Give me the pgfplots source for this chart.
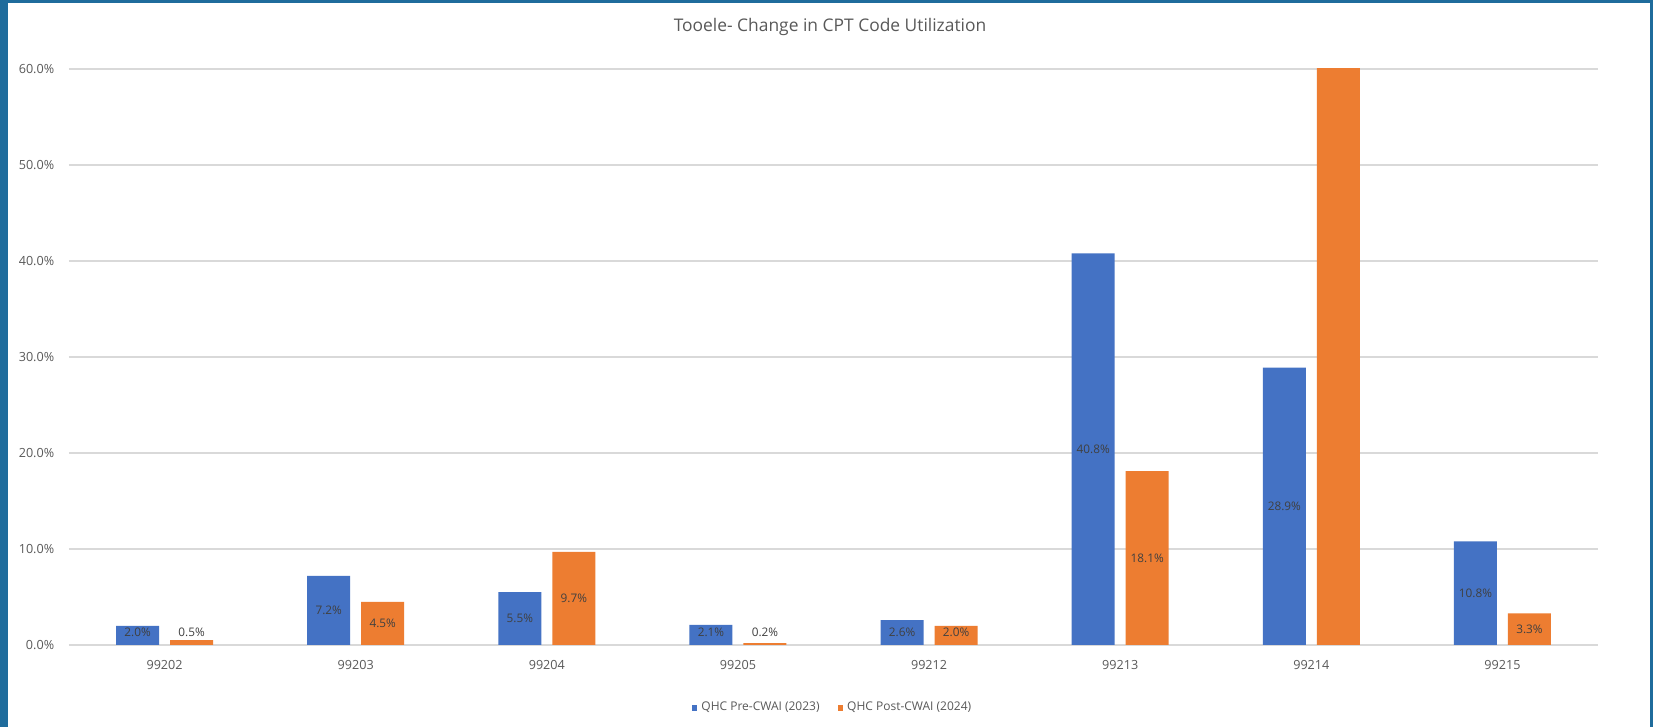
\documentclass[border=0pt]{standalone}
\usepackage{fontspec}
\setmainfont{Open Sans}
\usepackage{pgfplots}
\pgfplotsset{compat=1.18}

\definecolor{frameblue}{HTML}{1F6C9C}
\definecolor{barblue}{HTML}{4472C4}
\definecolor{barorange}{HTML}{ED7D31}
\definecolor{txtgray}{HTML}{595959}
\definecolor{gridgray}{HTML}{D9D9D9}
\definecolor{lblgray}{HTML}{404040}

\begin{document}
\begin{tikzpicture}
% page frame and white chart area
\fill[frameblue] (0pt,0pt) rectangle (826.5pt,363.5pt);
\fill[white] (4pt,0pt) rectangle (825pt,362pt);
\node[text=txtgray, font=\fontsize{8.7}{11}\selectfont] at (415pt,350.25pt)
  {Tooele- Change in CPT Code Utilization};
\begin{axis}[
  at={(34.5pt,41pt)}, anchor=south west,
  scale only axis, width=764.5pt, height=288pt,
  xmin=-0.5, xmax=7.5, ymin=0, ymax=60,
  ybar=5.5pt, bar width=21.5pt,
  axis line style={draw=none},
  major tick length=0pt,
  ytick={0,10,...,60},
  yticklabel={\pgfmathprintnumber[fixed,fixed zerofill,precision=1]{\tick}\%},
  xtick={0,...,7},
  xticklabels={99202,99203,99204,99205,99212,99213,99214,99215},
  ymajorgrids, grid style={gridgray, line width=0.75pt},
  /pgf/number format/assume math mode=true,
  tick label style={font=\fontsize{6.3}{7}\selectfont, text=txtgray},
  yticklabel style={xshift=-3.9pt},
  xticklabel style={yshift=-4.1pt},
  legend style={at={(0.5,-0.109)}, anchor=center, draw=none,
    legend columns=2, font=\fontsize{6.0}{7}\selectfont, text=txtgray,
    /tikz/every even column/.append style={column sep=7pt}},
  legend image code/.code={\fill[#1] (0pt,-1.4pt) rectangle (2.8pt,1.4pt);},
  point meta=y,
  visualization depends on={rawy \as \rawy},
  nodes near coords={\pgfmathprintnumber[fixed,fixed zerofill,precision=1]{\pgfplotspointmeta}\%},
  every node near coord/.append style={font=\fontsize{5.9}{7}\selectfont,
    text=lblgray, anchor=center,
    shift={(axis direction cs:0,{max(\rawy/2,1.35)-\rawy})}},
]
\addplot[fill=barblue, draw=none] coordinates
  {(0,2.0) (1,7.2) (2,5.5) (3,2.1) (4,2.6) (5,40.8) (6,28.9) (7,10.8)};
\addplot[fill=barorange, draw=none] coordinates
  {(0,0.5) (1,4.5) (2,9.7) (3,0.2) (4,2.0) (5,18.1) (6,61.5) (7,3.3)};
\legend{QHC Pre-CWAI (2023), QHC Post-CWAI (2024)}
\end{axis}
\end{tikzpicture}
\end{document}
